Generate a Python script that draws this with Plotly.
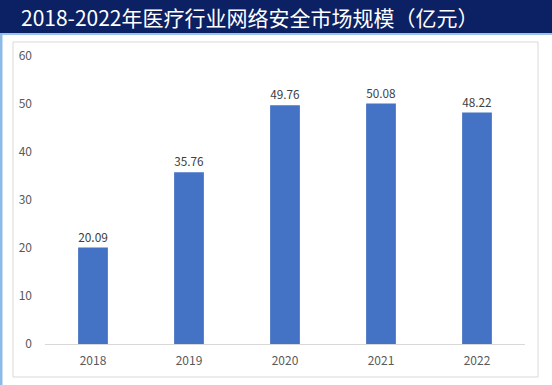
import plotly.graph_objects as go

years = ["2018", "2019", "2020", "2021", "2022"]
values = [20.09, 35.76, 49.76, 50.08, 48.22]
y_ticks = [0, 10, 20, 30, 40, 50, 60]
title_text = "2018-2022年医疗行业网络安全市场规模（亿元）"

W, H = 552, 385
L, R, T, B = 45, 27, 56, 41
pw, ph = W - L - R, H - T - B

def px(x):
    return (x - L) / pw

def py(y):
    return (H - B - y) / ph

fig = go.Figure()
fig.add_trace(go.Bar(
    x=years, y=values,
    marker=dict(color="#4472c4", line=dict(width=0)),
    text=[f"{v:.2f}" for v in values],
    textposition="outside",
    textfont=dict(size=12, color="#404040", family="Noto Sans CJK SC"),
    cliponaxis=False,
))

shapes = [
    dict(type="rect", xref="paper", yref="paper", x0=px(0), x1=px(W), y0=py(33), y1=py(0),
         fillcolor="#0c2163", line=dict(width=0), layer="below"),
    dict(type="rect", xref="paper", yref="paper", x0=px(0), x1=px(W), y0=py(35), y1=py(33),
         fillcolor="#9cc3ea", line=dict(width=0), layer="below"),
    dict(type="rect", xref="paper", yref="paper", x0=px(0), x1=px(2.5), y0=py(H), y1=py(33),
         fillcolor="#8dbbe8", line=dict(width=0), layer="below"),
    dict(type="rect", xref="paper", yref="paper", x0=px(13), x1=px(538), y0=py(377), y1=py(42),
         fillcolor="rgba(0,0,0,0)", line=dict(width=1, color="#d9d9d9"), layer="below"),
]

fig.update_layout(
    width=W, height=H,
    margin=dict(l=L, r=R, t=T, b=B, autoexpand=False),
    paper_bgcolor="white", plot_bgcolor="rgba(0,0,0,0)",
    showlegend=False,
    bargap=0.69,
    shapes=shapes,
    font=dict(family="Noto Sans CJK SC", size=12, color="#595959"),
    annotations=[dict(
        text=title_text, xref="paper", yref="paper",
        x=px(19), y=py(17), xanchor="left", yanchor="middle",
        showarrow=False, font=dict(size=21, color="white", family="Noto Sans CJK SC"),
    )],
    xaxis=dict(
        showgrid=False, showline=True, linecolor="#d9d9d9", linewidth=1,
        ticks="", tickfont=dict(size=12, color="#595959"), zeroline=False,
        ticklabelstandoff=6, automargin=False,
    ),
    yaxis=dict(
        range=[0, 60], tickvals=y_ticks, showgrid=False, zeroline=False,
        showline=False, ticks="", ticklabelstandoff=12, automargin=False,
        tickfont=dict(size=12, color="#595959"),
    ),
)

fig.write_html(
    "out.html",
    config={"displayModeBar": False},
    post_script="document.body.style.margin='0';document.body.style.overflow='hidden';",
)
